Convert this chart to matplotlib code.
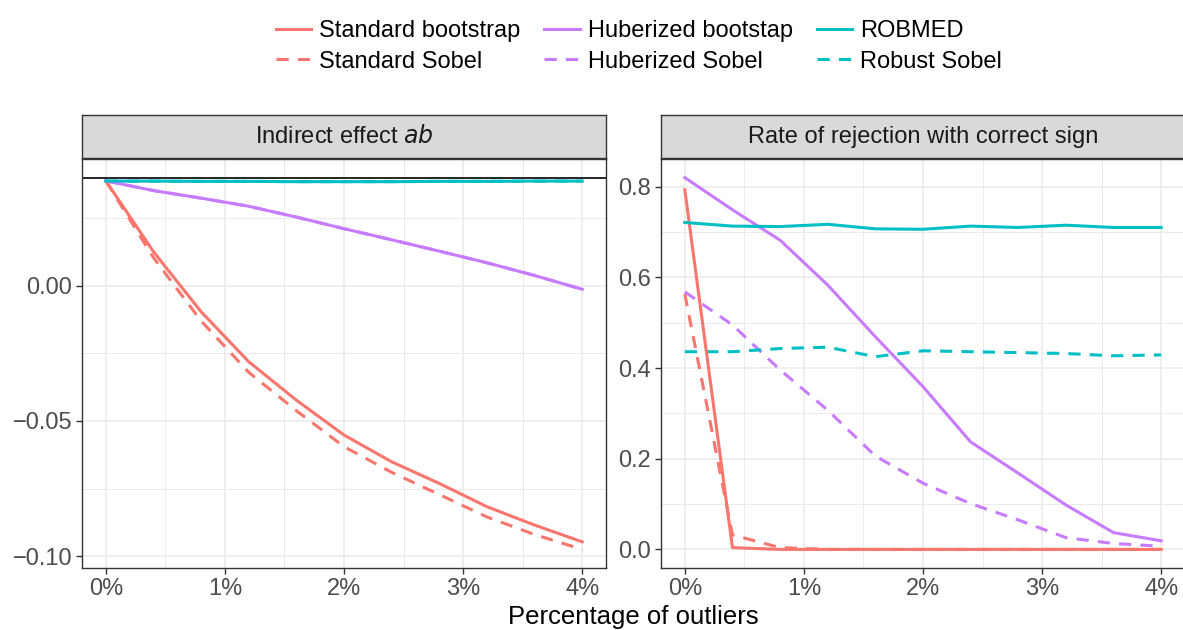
import numpy as np
import matplotlib
matplotlib.use("Agg")
import matplotlib.pyplot as plt
from matplotlib.lines import Line2D

plt.rcParams['font.family'] = ['Liberation Sans', 'DejaVu Sans']

# percentage of outliers
pct = [0.0, 0.4, 0.8, 1.2, 1.6, 2.0, 2.4, 2.8, 3.2, 3.6, 4.0]

# indirect effect ab
ab_std_boot = [0.0388, 0.0126, -0.0096, -0.0281, -0.0423, -0.0552, -0.0651, -0.0731, -0.0817, -0.0885, -0.0947]
ab_std_sobel = [0.0388, 0.0104, -0.0130, -0.0320, -0.0462, -0.0595, -0.0690, -0.0772, -0.0855, -0.0920, -0.0975]
ab_hub_boot = [0.0388, 0.0352, 0.0324, 0.0294, 0.0254, 0.0211, 0.0170, 0.0128, 0.0085, 0.0038, -0.0013]
ab_hub_sobel = [0.0388, 0.0352, 0.0324, 0.0294, 0.0254, 0.0211, 0.0170, 0.0128, 0.0085, 0.0038, -0.0013]
ab_robmed = [0.0387, 0.0387, 0.0386, 0.0386, 0.0385, 0.0385, 0.0385, 0.0386, 0.0386, 0.0387, 0.0387]
ab_rob_sobel = [0.0387, 0.0387, 0.0386, 0.0386, 0.0385, 0.0385, 0.0385, 0.0386, 0.0386, 0.0387, 0.0387]
ab_true = 0.04

# rate of rejection with correct sign
rej_std_boot = [0.793, 0.004, 0.0, 0.0, 0.0, 0.0, 0.0, 0.0, 0.0, 0.0, 0.0]
rej_std_sobel = [0.563, 0.032, 0.004, 0.0, 0.0, 0.0, 0.0, 0.0, 0.0, 0.0, 0.0]
rej_hub_boot = [0.820, 0.749, 0.682, 0.583, 0.469, 0.359, 0.237, 0.168, 0.098, 0.037, 0.019]
rej_hub_sobel = [0.568, 0.495, 0.396, 0.307, 0.206, 0.146, 0.101, 0.065, 0.026, 0.013, 0.007]
rej_robmed = [0.721, 0.713, 0.712, 0.717, 0.707, 0.706, 0.713, 0.710, 0.715, 0.710, 0.710]
rej_rob_sobel = [0.436, 0.436, 0.443, 0.446, 0.425, 0.438, 0.436, 0.434, 0.432, 0.427, 0.429]

RED = '#F8766D'
PURPLE = '#C77CFF'
CYAN = '#00BFC4'
LW = 2.2
DASH = (0, (4, 3))

W, H = 1183, 630


def style_panel(ax, title, ylim, major, minor, fmt):
    ax.set_xlim(-0.2, 4.2)
    ax.set_ylim(*ylim)
    ax.set_xticks([0, 1, 2, 3, 4])
    ax.set_xticklabels(['0%', '1%', '2%', '3%', '4%'])
    ax.set_xticks([0.5, 1.5, 2.5, 3.5], minor=True)
    ax.set_yticks(major)
    ax.set_yticklabels([fmt(v).replace('-', '\u2212') for v in major])
    ax.set_yticks(minor, minor=True)
    ax.grid(True, which='major', color='#EBEBEB', lw=1.2, zorder=0)
    ax.grid(True, which='minor', color='#EBEBEB', lw=0.7, zorder=0)
    ax.set_axisbelow(True)
    ax.tick_params(which='major', length=4, width=1, color='#333333',
                   labelsize=17, labelcolor='#4D4D4D', pad=3)
    ax.tick_params(which='minor', length=0)
    for s in ax.spines.values():
        s.set_color('#333333')
        s.set_linewidth(1.0)
    # facet strip
    ax.text(0.5, 1.0, title, transform=ax.transAxes, ha='center', va='bottom',
            fontsize=17, color='#1A1A1A',
            bbox=dict(boxstyle='square,pad=0', fc='none', ec='none'))


def add_strip(fig, x0, x1, title):
    y0 = 1 - 158 / H
    y1 = 1 - 115 / H
    sax = fig.add_axes([x0 / W, y0, (x1 - x0) / W, y1 - y0])
    sax.set_facecolor('#D9D9D9')
    sax.set_xticks([])
    sax.set_yticks([])
    for s in sax.spines.values():
        s.set_color('#333333')
        s.set_linewidth(1.0)
    sax.text(0.5, 0.5, title, ha='center', va='center', fontsize=17,
             color='#1A1A1A', transform=sax.transAxes)
    return sax


def main():
    fig = plt.figure(figsize=(W / 100, H / 100), dpi=100)
    bottom = 1 - 568 / H
    height = (568 - 159) / H

    ax1 = fig.add_axes([82 / W, bottom, 524 / W, height])
    ax2 = fig.add_axes([661 / W, bottom, 524 / W, height])

    ax1.plot(pct, ab_std_sobel, color=RED, lw=LW, ls=DASH)
    ax1.plot(pct, ab_hub_sobel, color=PURPLE, lw=LW, ls=DASH)
    ax1.plot(pct, ab_rob_sobel, color=CYAN, lw=LW, ls=DASH)
    ax1.plot(pct, ab_std_boot, color=RED, lw=LW)
    ax1.plot(pct, ab_hub_boot, color=PURPLE, lw=LW)
    ax1.plot(pct, ab_robmed, color=CYAN, lw=LW)
    ax1.axhline(ab_true, color='black', lw=1.2)

    ax2.plot(pct, rej_std_sobel, color=RED, lw=LW, ls=DASH)
    ax2.plot(pct, rej_hub_sobel, color=PURPLE, lw=LW, ls=DASH)
    ax2.plot(pct, rej_rob_sobel, color=CYAN, lw=LW, ls=DASH)
    ax2.plot(pct, rej_std_boot, color=RED, lw=LW)
    ax2.plot(pct, rej_hub_boot, color=PURPLE, lw=LW)
    ax2.plot(pct, rej_robmed, color=CYAN, lw=LW)

    style_panel(ax1, '', (-0.104375, 0.046875), [-0.10, -0.05, 0.00],
                [-0.075, -0.025, 0.025], lambda v: '%.2f' % v)
    style_panel(ax2, '', (-0.041, 0.861), [0.0, 0.2, 0.4, 0.6, 0.8],
                [0.1, 0.3, 0.5, 0.7], lambda v: '%.1f' % v)

    add_strip(fig, 82, 606, 'Indirect effect $\\mathit{ab}$')
    add_strip(fig, 661, 1185, 'Rate of rejection with correct sign')

    fig.text(633 / W, 1 - 617 / H, 'Percentage of outliers', ha='center',
             va='center', fontsize=18.5, color='black')

    handles = [
        Line2D([], [], color=RED, lw=LW), Line2D([], [], color=RED, lw=LW, ls=DASH),
        Line2D([], [], color=PURPLE, lw=LW), Line2D([], [], color=PURPLE, lw=LW, ls=DASH),
        Line2D([], [], color=CYAN, lw=LW), Line2D([], [], color=CYAN, lw=LW, ls=DASH),
    ]
    labels = ['Standard bootstrap', 'Standard Sobel', 'Huberized bootstap',
              'Huberized Sobel', 'ROBMED', 'Robust Sobel']
    fig.legend(handles, labels, ncol=3, loc='center',
               bbox_to_anchor=(639 / W, 1 - 46.5 / H), frameon=False,
               fontsize=17, handlelength=1.5, handletextpad=0.35,
               columnspacing=1.0, labelspacing=0.35, borderpad=0)

    fig.savefig('out.png', dpi=100)


if __name__ == '__main__':
    main()
